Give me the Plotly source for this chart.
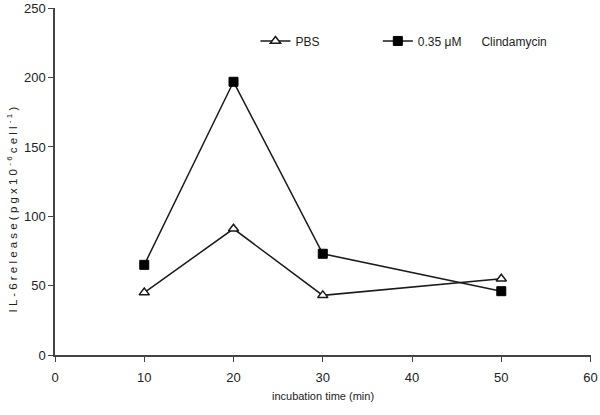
import plotly.graph_objects as go

time_min = [10, 20, 30, 50]
pbs = [45, 91, 43, 55]
clinda = [65, 197, 73, 46]
x_ticks = [0, 10, 20, 30, 40, 50, 60]
y_ticks = [0, 50, 100, 150, 200, 250]

font_main = "Liberation Sans, Arial, sans-serif"
pad = "\u00a0" * 16

fig = go.Figure()
fig.add_trace(go.Scatter(
    x=time_min, y=pbs, mode="lines+markers", name="PBS" + pad,
    line=dict(color="#1a1a1a", width=1.5),
    marker=dict(symbol="triangle-up", size=9, color="white",
                line=dict(color="#1a1a1a", width=1.5)),
))
fig.add_trace(go.Scatter(
    x=time_min, y=clinda, mode="lines+markers",
    name="0.35 μM" + "\u00a0" * 6 + "Clindamycin",
    line=dict(color="#1a1a1a", width=1.5),
    marker=dict(symbol="square", size=9, color="black",
                line=dict(color="black", width=1)),
))

fig.update_layout(
    width=600, height=415,
    margin=dict(l=55, r=9, t=8, b=60, autoexpand=False),
    paper_bgcolor="white", plot_bgcolor="white",
    font=dict(family=font_main, size=13, color="#222"),
    legend=dict(orientation="h", x=0.374, y=0.905, xanchor="left", yanchor="middle",
                bgcolor="rgba(0,0,0,0)", font=dict(size=12, family=font_main)),
    xaxis=dict(range=[0, 60.05], tickvals=x_ticks, showgrid=False, zeroline=False,
               showline=True, linecolor="#444", linewidth=1.5,
               ticks="outside", ticklen=5, tickcolor="#444", automargin=False,
               ticklabelstandoff=5,
               title=dict(text="incubation time (min)", font=dict(size=11), standoff=8)),
    yaxis=dict(range=[0, 250.2], tickvals=y_ticks, showgrid=False, zeroline=False,
               showline=True, linecolor="#444", linewidth=1.5,
               ticks="outside", ticklen=5, tickcolor="#444", automargin=False),
    annotations=[dict(
        text="I L - 6 r e l e a s e ( p g x 1 0 <sup>- 6</sup> c e l l <sup>- 1</sup> )",
        xref="paper", yref="paper", x=-0.08, y=0.42, xanchor="center", yanchor="middle",
        textangle=-90, showarrow=False, font=dict(size=11.5, family=font_main, color="#222"),
    )],
)

fig.write_html("out.html", config={"displayModeBar": False},
               post_script="document.body.style.margin='0';")
